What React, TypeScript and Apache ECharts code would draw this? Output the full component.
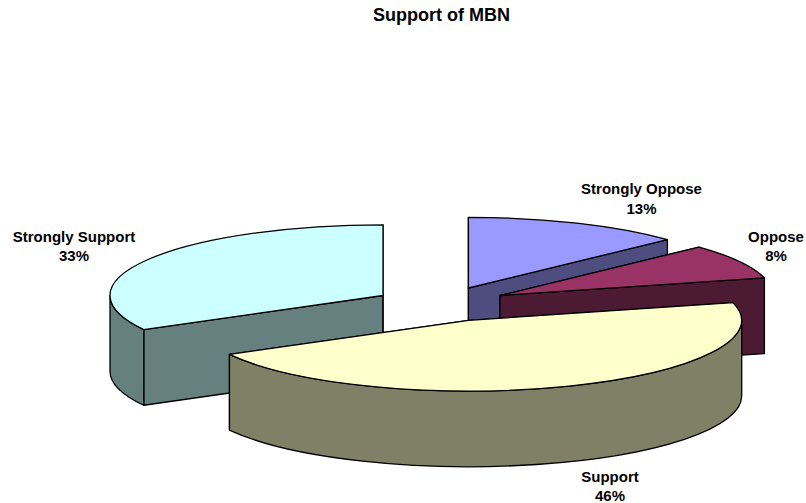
import React, { useEffect, useRef } from "react";
import * as echarts from "echarts";

const WIDTH = 806;
const HEIGHT = 503;

const categories = ["Strongly Oppose", "Oppose", "Support", "Strongly Support"];
const shares = [13, 8, 46, 33];
const topColors = ["#9999FF", "#993366", "#FFFFCC", "#CCFFFF"];
const sideColors = ["#4D4D80", "#4D1A33", "#808066", "#668080"];

// Exploded apex of each wedge and the centre of its two-line label, in canvas units.
const apexes = [
  [468.4, 288],
  [500, 295.5],
  [468.7, 320.3],
  [383, 295.5],
];
const labelAnchors = [
  [641.5, 198.5],
  [776, 246],
  [610, 486],
  [74, 246],
];

// Back-to-front painting order of the wedges.
const paintOrder = [0, 3, 1, 2];

const RX = 273;
const RY = 70.7;
const DEPTH = 75.7;
const EDGE = { stroke: "#000000", lineWidth: 1.3, lineJoin: "round" as const };

const toRad = (deg: number) => (deg * Math.PI) / 180;

function startAngle(index: number) {
  const before = shares.slice(0, index).reduce((a, b) => a + b, 0);
  return (before / 100) * 360;
}

// Angles run clockwise from twelve o'clock on a flattened circle.
function rim(cx: number, cy: number, sx: number, sy: number, deg: number) {
  return [cx + RX * sx * Math.sin(toRad(deg)), cy - RY * sy * Math.cos(toRad(deg))];
}

function renderWedge(_params: any, api: any) {
  const index = api.value(0) as number;
  const share = api.value(1) as number;
  const [cx, cy] = api.coord(apexes[index]);
  const origin = api.coord([0, 0]);
  const unit = api.coord([1, 1]);
  const sx = unit[0] - origin[0];
  const sy = unit[1] - origin[1];
  const depth = DEPTH * sy;
  const from = startAngle(index);
  const to = from + (share / 100) * 360;
  const [ax, ay] = rim(cx, cy, sx, sy, from);
  const [bx, by] = rim(cx, cy, sx, sy, to);
  const rx = RX * sx;
  const ry = RY * sy;
  const children: any[] = [];

  const wall = (px: number, py: number) => ({
    type: "polygon",
    shape: {
      points: [
        [cx, cy],
        [px, py],
        [px, py + depth],
        [cx, cy + depth],
      ],
    },
    style: { fill: sideColors[index], ...EDGE },
  });
  children.push(wall(ax, ay), wall(bx, by));

  // Outer skirt exists only where the rim faces the viewer.
  const skirtFrom = Math.max(from, 90);
  const skirtTo = Math.min(to, 270);
  if (skirtTo > skirtFrom) {
    const [p, q] = rim(cx, cy, sx, sy, skirtFrom);
    const [r, s] = rim(cx, cy, sx, sy, skirtTo);
    children.push({
      type: "path",
      shape: {
        pathData:
          `M${p} ${q}A${rx} ${ry} 0 0 1 ${r} ${s}` +
          `L${r} ${s + depth}A${rx} ${ry} 0 0 0 ${p} ${q + depth}Z`,
      },
      style: { fill: sideColors[index], ...EDGE },
    });
  }

  const large = to - from > 180 ? 1 : 0;
  children.push({
    type: "path",
    shape: {
      pathData: `M${cx} ${cy}L${ax} ${ay}A${rx} ${ry} 0 ${large} 1 ${bx} ${by}Z`,
    },
    style: { fill: topColors[index], ...EDGE },
  });

  const [lx, ly] = api.coord(labelAnchors[index]);
  children.push({
    type: "text",
    style: {
      x: lx,
      y: ly,
      text: `${categories[index]}\n${share}%`,
      fill: "#000000",
      font: 'bold 15px "Liberation Sans", Arial, sans-serif',
      lineHeight: 19.5,
      align: "center",
      verticalAlign: "middle",
    },
  });

  return { type: "group", children };
}

export default function App() {
  const ref = useRef<HTMLDivElement>(null);

  useEffect(() => {
    document.body.style.margin = "0";
    const chart = echarts.init(ref.current!, undefined, { renderer: "svg" });
    chart.setOption({
      animation: false,
      backgroundColor: "#FFFFFF",
      title: {
        text: "Support of MBN",
        left: 436.5,
        top: 1,
        textAlign: "center",
        textStyle: {
          color: "#000000",
          fontFamily: '"Liberation Sans", Arial, sans-serif',
          fontWeight: "bold",
          fontSize: 18,
        },
      },
      grid: { left: 0, right: 0, top: 0, bottom: 0 },
      xAxis: { type: "value", min: 0, max: WIDTH, show: false },
      yAxis: { type: "value", min: 0, max: HEIGHT, inverse: true, show: false },
      tooltip: { show: false },
      series: [
        {
          type: "custom",
          coordinateSystem: "cartesian2d",
          silent: true,
          clip: false,
          renderItem: renderWedge,
          data: paintOrder.map((i) => [i, shares[i]]),
        },
      ],
    });
    return () => chart.dispose();
  }, []);

  return <div ref={ref} style={{ width: WIDTH, height: HEIGHT }} />;
}
